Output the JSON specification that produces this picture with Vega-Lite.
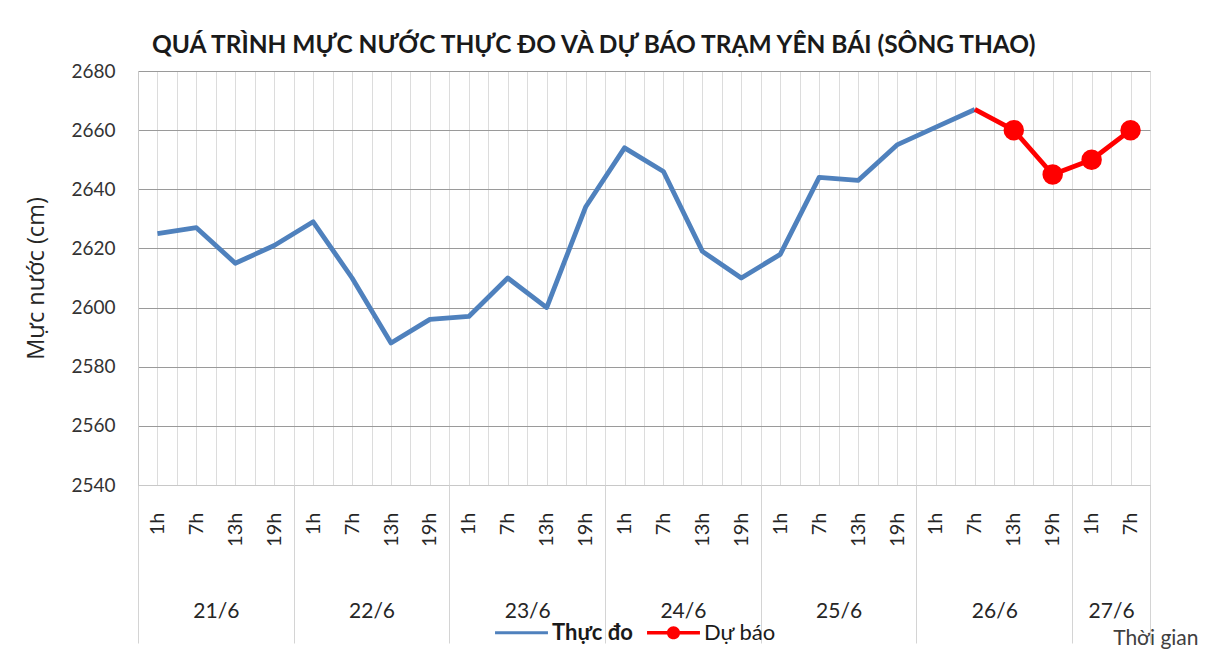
{
  "$schema": "https://vega.github.io/schema/vega-lite/v6.json",
  "autosize": {"type": "none"},
  "padding": {"left": 138, "top": 71, "right": 73, "bottom": 167},
  "width": 1012,
  "height": 414,
  "background": "white",
  "config": {
    "font": "Lato",
    "view": {"stroke": null},
    "axis": {"labelFont": "Lato", "titleFont": "Lato"}
  },
  "title": {
    "text": "QUÁ TRÌNH MỰC NƯỚC THỰC ĐO VÀ DỰ BÁO TRẠM YÊN BÁI (SÔNG THAO)",
    "anchor": "start",
    "frame": "group",
    "dx": 14,
    "offset": 4,
    "font": "Lato",
    "fontSize": 24.5,
    "fontWeight": "bold",
    "color": "#1a1a1a"
  },
  "data": {
    "values": [
      {"i": 0, "value": 2625, "series": "Thực đo"},
      {"i": 1, "value": 2627, "series": "Thực đo"},
      {"i": 2, "value": 2615, "series": "Thực đo"},
      {"i": 3, "value": 2621, "series": "Thực đo"},
      {"i": 4, "value": 2629, "series": "Thực đo"},
      {"i": 5, "value": 2610, "series": "Thực đo"},
      {"i": 6, "value": 2588, "series": "Thực đo"},
      {"i": 7, "value": 2596, "series": "Thực đo"},
      {"i": 8, "value": 2597, "series": "Thực đo"},
      {"i": 9, "value": 2610, "series": "Thực đo"},
      {"i": 10, "value": 2600, "series": "Thực đo"},
      {"i": 11, "value": 2634, "series": "Thực đo"},
      {"i": 12, "value": 2654, "series": "Thực đo"},
      {"i": 13, "value": 2646, "series": "Thực đo"},
      {"i": 14, "value": 2619, "series": "Thực đo"},
      {"i": 15, "value": 2610, "series": "Thực đo"},
      {"i": 16, "value": 2618, "series": "Thực đo"},
      {"i": 17, "value": 2644, "series": "Thực đo"},
      {"i": 18, "value": 2643, "series": "Thực đo"},
      {"i": 19, "value": 2655, "series": "Thực đo"},
      {"i": 20, "value": 2661, "series": "Thực đo"},
      {"i": 21, "value": 2667, "series": "Thực đo"},
      {"i": 21, "value": 2667, "series": "Dự báo", "marker": false},
      {"i": 22, "value": 2660, "series": "Dự báo", "marker": true},
      {"i": 23, "value": 2645, "series": "Dự báo", "marker": true},
      {"i": 24, "value": 2650, "series": "Dự báo", "marker": true},
      {"i": 25, "value": 2660, "series": "Dự báo", "marker": true}
    ]
  },
  "encoding": {
    "y": {
      "field": "value",
      "type": "quantitative",
      "scale": {"domain": [2540, 2680], "nice": false, "zero": false},
      "axis": {
        "values": [2540, 2560, 2580, 2600, 2620, 2640, 2660, 2680],
        "format": "d",
        "title": "Mực nước (cm)",
        "titleFont": "Open Sans",
        "titleFontSize": 23.5,
        "titleFontWeight": "normal",
        "titleColor": "#262626",
        "titlePadding": 22,
        "labelFontSize": 19,
        "labelColor": "#333333",
        "labelPadding": 23,
        "ticks": false,
        "domain": true,
        "domainColor": "#c8c8c8",
        "grid": true,
        "gridColor": "#9a9a9a",
        "gridWidth": 1
      }
    },
    "color": {
      "field": "series",
      "type": "nominal",
      "scale": {"domain": ["Thực đo", "Dự báo"], "range": ["#4F81BD", "#FF0000"]},
      "legend": {
        "title": null,
        "orient": "none",
        "direction": "horizontal",
        "legendX": 357,
        "legendY": 535,
        "labelFontSize": 22,
        "labelColor": "#1a1a1a",
        "symbolSize": 2800,
        "symbolStrokeWidth": 0,
        "labelOffset": 4,
        "columnPadding": 14,
        "encode": {
          "symbols": {
            "update": {
              "shape": {"signal": "datum.index === 1 ? 'M-1,-0.07H-0.2V0.07H-1Z M0.2,-0.07H1V0.07H0.2Z M-0.25,0A0.25,0.25,0,1,1,0.25,0A0.25,0.25,0,1,1,-0.25,0Z' : 'M-1,-0.06H1V0.06H-1Z'"},
              "fill": {"signal": "datum.index === 1 ? '#FF0000' : '#4F81BD'"},
              "strokeWidth": {"value": 0}
            }
          },
          "labels": {
            "update": {
              "fontWeight": {"signal": "datum.index === 0 ? 'bold' : 'normal'"}
            }
          }
        }
      }
    }
  },
  "layer": [
    {
      "transform": [{"filter": "datum.series === 'Thực đo'"}],
      "mark": {"type": "line", "strokeWidth": 4.8, "strokeJoin": "round"},
      "encoding": {
        "x": {
          "field": "i",
          "type": "quantitative",
          "scale": {"domain": [-0.5, 25.5], "nice": false, "zero": false},
          "axis": {
            "orient": "bottom",
            "title": null,
            "values": [-0.5, 0, 0.5, 1, 1.5, 2, 2.5, 3, 3.5, 4, 4.5, 5, 5.5, 6, 6.5, 7, 7.5, 8, 8.5, 9, 9.5, 10, 10.5, 11, 11.5, 12, 12.5, 13, 13.5, 14, 14.5, 15, 15.5, 16, 16.5, 17, 17.5, 18, 18.5, 19, 19.5, 20, 20.5, 21, 21.5, 22, 22.5, 23, 23.5, 24, 24.5, 25, 25.5],
            "labelExpr": "datum.value % 1 === 0 ? ['1h','7h','13h','19h'][datum.value % 4] : ''",
            "labelAngle": 270,
            "labelAlign": "right",
            "labelBaseline": "middle",
            "labelPadding": 27,
            "labelFontSize": 20,
            "labelColor": "#262626",
            "labelOverlap": false,
            "labelFlush": false,
            "labelBound": false,
            "ticks": false,
            "domain": true,
            "domainColor": "#c8c8c8",
            "grid": true,
            "gridColor": "#dcdcdc",
            "gridWidth": 1
          }
        }
      }
    },
    {
      "transform": [{"filter": "datum.series === 'Dự báo'"}],
      "mark": {"type": "line", "strokeWidth": 4.8, "strokeJoin": "round"},
      "encoding": {
        "x": {
          "field": "i",
          "type": "quantitative",
          "scale": {"domain": [-0.5, 25.5], "nice": false, "zero": false},
          "axis": {
            "orient": "bottom",
            "title": null,
            "values": [-0.5, 3.5, 7.5, 11.5, 15.5, 19.5, 23.5, 25.5],
            "labels": false,
            "ticks": true,
            "tickSize": 158,
            "tickColor": "#d4d4d4",
            "tickWidth": 1,
            "domain": false,
            "grid": false
          }
        }
      }
    },
    {
      "transform": [{"filter": "datum.series === 'Dự báo' && datum.marker"}],
      "mark": {"type": "point", "filled": true, "size": 420, "opacity": 1},
      "encoding": {
        "x": {
          "field": "i",
          "type": "quantitative",
          "scale": {"domain": [-0.5, 25.5], "nice": false, "zero": false},
          "axis": {
            "orient": "bottom",
            "values": [1.5, 5.5, 9.5, 13.5, 17.5, 21.5, 24.5],
            "labelExpr": "(21 + floor(datum.value / 4)) + '/6'",
            "labelFontSize": 21,
            "labelColor": "#262626",
            "labelBaseline": "middle",
            "labelPadding": 126,
            "labelOverlap": false,
            "labelFlush": false,
            "labelBound": false,
            "ticks": false,
            "domain": false,
            "grid": false,
            "title": "Thời gian",
            "titleFontSize": 21,
            "titleFontWeight": "normal",
            "titleColor": "#404040",
            "titleX": 1060,
            "titleY": 153,
            "titleAlign": "right",
            "titleBaseline": "middle",
            "titleAnchor": null
          }
        }
      }
    }
  ],
  "resolve": {"axis": {"x": "independent"}}
}
